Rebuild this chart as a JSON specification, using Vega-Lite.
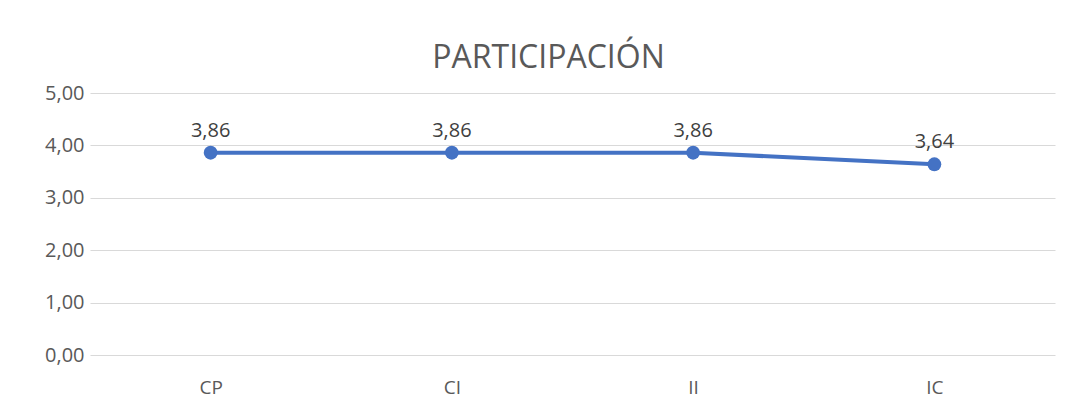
{
  "$schema": "https://vega.github.io/schema/vega-lite/v6.json",
  "autosize": "none",
  "width": 965,
  "height": 262,
  "padding": {"left": 90, "top": 93, "right": 13, "bottom": 45},
  "background": "white",
  "title": {
    "text": "PARTICIPACIÓN",
    "font": "Open Sans",
    "fontSize": 32,
    "fontWeight": "normal",
    "color": "#595959",
    "anchor": "middle",
    "dx": -24,
    "offset": 8
  },
  "data": {
    "values": [
      {"cat": "CP", "value": 3.86},
      {"cat": "CI", "value": 3.86},
      {"cat": "II", "value": 3.86},
      {"cat": "IC", "value": 3.64}
    ]
  },
  "encoding": {
    "x": {
      "field": "cat",
      "type": "nominal",
      "sort": null,
      "scale": {"paddingInner": 0, "paddingOuter": 0.5},
      "axis": {
        "title": null,
        "domain": false,
        "ticks": false,
        "grid": false,
        "labelAngle": 0,
        "labelFont": "Open Sans",
        "labelFontSize": 19,
        "labelColor": "#595959",
        "labelPadding": 23
      }
    },
    "y": {
      "field": "value",
      "type": "quantitative",
      "scale": {"domain": [0, 5], "nice": false},
      "axis": {
        "title": null,
        "values": [0, 1, 2, 3, 4, 5],
        "domain": false,
        "ticks": false,
        "gridColor": "#d9d9d9",
        "gridWidth": 1.2,
        "labelFont": "Open Sans",
        "labelFontSize": 20,
        "labelColor": "#595959",
        "labelPadding": 6,
        "labelExpr": "replace(format(datum.value, '.2f'), '.', ',')"
      }
    }
  },
  "layer": [
    {
      "mark": {"type": "line", "color": "#4472C4", "strokeWidth": 4, "point": {"size": 190, "filled": true, "color": "#4472C4", "opacity": 1}}
    },
    {
      "mark": {"type": "text", "dy": -22, "font": "Open Sans", "fontSize": 20, "color": "#404040"},
      "encoding": {
        "text": {"field": "value", "type": "quantitative", "format": ".2f"}
      }
    }
  ],
  "config": {
    "view": {"stroke": null},
    "locale": {"number": {"decimal": ",", "thousands": ".", "grouping": [3], "currency": ["", "€"]}}
  }
}
